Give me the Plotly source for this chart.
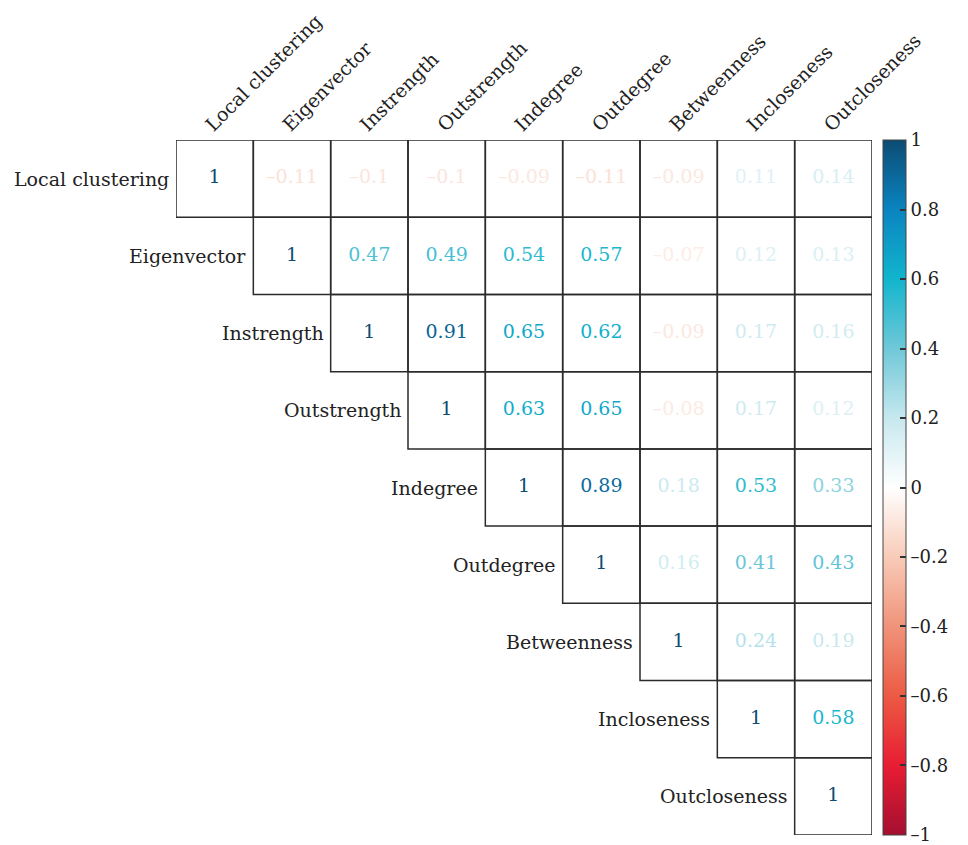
import numpy as np
import plotly.graph_objects as go

# Network centrality measures compared in the correlation matrix
names = ["Local clustering", "Eigenvector", "Instrength", "Outstrength",
         "Indegree", "Outdegree", "Betweenness", "Incloseness", "Outcloseness"]

# Upper-triangle correlations, one list per row (starting at the diagonal)
row_local_clustering = [1, -0.11, -0.1, -0.1, -0.09, -0.11, -0.09, 0.11, 0.14]
row_eigenvector = [1, 0.47, 0.49, 0.54, 0.57, -0.07, 0.12, 0.13]
row_instrength = [1, 0.91, 0.65, 0.62, -0.09, 0.17, 0.16]
row_outstrength = [1, 0.63, 0.65, -0.08, 0.17, 0.12]
row_indegree = [1, 0.89, 0.18, 0.53, 0.33]
row_outdegree = [1, 0.16, 0.41, 0.43]
row_betweenness = [1, 0.24, 0.19]
row_incloseness = [1, 0.58]
row_outcloseness = [1]

rows = [row_local_clustering, row_eigenvector, row_instrength, row_outstrength,
        row_indegree, row_outdegree, row_betweenness, row_incloseness,
        row_outcloseness]

colorbar_ticks = [-1, -0.8, -0.6, -0.4, -0.2, 0, 0.2, 0.4, 0.6, 0.8, 1]

# Diverging red-white-blue palette
palette = ["#a50f30", "#e81d33", "#ec5a44", "#f0937a", "#f8cbb8", "#ffffff",
           "#c6e8ef", "#6fc8d8", "#12b5cd", "#0a84c0", "#0c4c74"]
stops = np.linspace(0, 1, len(palette))
colorscale = [[float(s), c] for s, c in zip(stops, palette)]


def hex_to_rgb(h):
    h = h.lstrip("#")
    return np.array([int(h[i:i + 2], 16) for i in (0, 2, 4)], dtype=float)


pal_rgb = np.array([hex_to_rgb(c) for c in palette])


def value_color(v):
    t = (v + 1) / 2
    r, g, b = (np.interp(t, stops, pal_rgb[:, k]) for k in range(3))
    return f"rgb({int(round(r))},{int(round(g))},{int(round(b))})"


def fmt(v):
    if v == 1:
        return "1"
    s = f"{v:g}"
    return s.replace("-", "\u2013")


xs, ys, vals = [], [], []
for i, row in enumerate(rows):
    for k, v in enumerate(row):
        xs.append(i + k)
        ys.append(i)
        vals.append(v)

FONT = "DejaVu Serif"

fig = go.Figure()

# Correlation values written in each cell, coloured by value
fig.add_trace(go.Scatter(
    x=xs, y=ys, mode="text",
    text=[fmt(v) for v in vals],
    textfont=dict(family=FONT, size=19, color=[value_color(v) for v in vals]),
    hoverinfo="skip", showlegend=False,
))

# Invisible markers carrying the colour scale for the colorbar
fig.add_trace(go.Scatter(
    x=xs, y=ys, mode="markers",
    marker=dict(size=1, opacity=0, color=vals, colorscale=colorscale,
                cmin=-1.0005, cmax=1.0005, showscale=True,
                colorbar=dict(
                    thickness=23, len=1, lenmode="fraction", y=0.5,
                    yanchor="middle", x=1.016, xanchor="left", xpad=0, ypad=0,
                    outlinewidth=1, outlinecolor="#444",
                    tickmode="array", tickvals=colorbar_ticks,
                    ticktext=[fmt(t) if t != 0 else "0" for t in colorbar_ticks],
                    ticks="inside", ticklen=6, tickwidth=1.5, tickcolor="#333",
                    ticklabeloverflow="allow",
                    tickfont=dict(family=FONT, size=18, color="#222"),
                )),
    hoverinfo="skip", showlegend=False,
))

# Cell borders for the upper triangle
shapes = []
for x, y in zip(xs, ys):
    shapes.append(dict(type="rect", xref="x", yref="y",
                       x0=x - 0.5, x1=x + 0.5, y0=y - 0.5, y1=y + 0.5,
                       line=dict(color="#2b2b2b", width=1.5), layer="above"))

# Row labels placed to the left of each diagonal cell
annotations = []
for i, name in enumerate(names):
    annotations.append(dict(x=i - 0.5, y=i, xref="x", yref="y", text=name,
                            showarrow=False, xanchor="right", yanchor="middle",
                            xshift=-5,
                            font=dict(family=FONT, size=19, color="#222")))

n = len(names)
fig.update_layout(
    width=968, height=845,
    margin=dict(l=176, r=96, t=138, b=10),
    paper_bgcolor="white", plot_bgcolor="white",
    shapes=shapes, annotations=annotations,
    xaxis=dict(range=[-0.5, n - 0.5], side="top", tickmode="array",
               tickvals=list(range(n)), ticktext=names, tickangle=-45,
               ticks="", showgrid=False, zeroline=False, showline=False,
               ticklabelshift=-8,
               tickfont=dict(family=FONT, size=19, color="#222"),
               fixedrange=True),
    yaxis=dict(range=[n - 0.5, -0.5], showticklabels=False, ticks="",
               showgrid=False, zeroline=False, showline=False,
               fixedrange=True),
)

fig.write_html("out.html")
